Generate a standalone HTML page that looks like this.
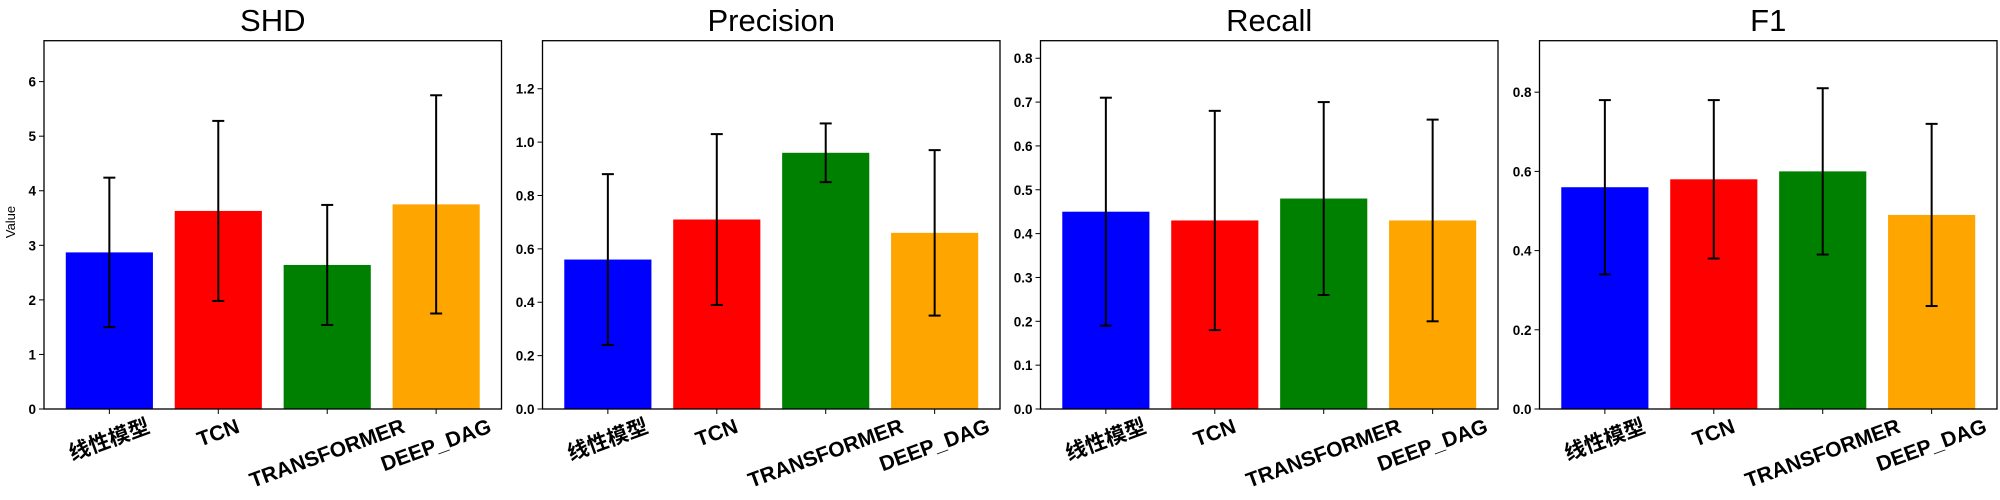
<!DOCTYPE html>
<html><head><meta charset="utf-8"><style>
body{margin:0;background:#fff}
svg{display:block}
text{font-family:"Liberation Sans","Noto Sans CJK SC",sans-serif}
</style></head><body>
<svg id="chart" width="2000" height="500" xmlns="http://www.w3.org/2000/svg"></svg>
<script>
const categories = ["线性模型","TCN","TRANSFORMER","DEEP_DAG"];
const colors = ["#0000ff","#ff0000","#008000","#ffa500"];
const titles = ["SHD","Precision","Recall","F1"];
const shdMeans = [2.87,3.63,2.64,3.75];
const shdErrs = [1.37,1.65,1.1,2.0];
const precMeans = [0.56,0.71,0.96,0.66];
const precErrs = [0.32,0.32,0.11,0.31];
const recMeans = [0.45,0.43,0.48,0.43];
const recErrs = [0.26,0.25,0.22,0.23];
const f1Means = [0.56,0.58,0.60,0.49];
const f1Errs = [0.22,0.20,0.21,0.23];
const yMaxes = [6.75,1.38,0.84,0.93];
const shdTicks = [0,1,2,3,4,5,6];
const precTicks = [0,0.2,0.4,0.6,0.8,1.0,1.2];
const recTicks = [0,0.1,0.2,0.3,0.4,0.5,0.6,0.7,0.8];
const f1Ticks = [0,0.2,0.4,0.6,0.8];

const panels = [
 {means:shdMeans,errs:shdErrs,ticks:shdTicks,dec:0},
 {means:precMeans,errs:precErrs,ticks:precTicks,dec:1},
 {means:recMeans,errs:recErrs,ticks:recTicks,dec:1},
 {means:f1Means,errs:f1Errs,ticks:f1Ticks,dec:1}
];
const lefts=[44,542.5,1040.5,1539.5], W=457.5, TOP=40.7, BOT=409;
const svg=document.getElementById('chart');
const NS="http://www.w3.org/2000/svg";
function mk(tag,attrs,parent){const e=document.createElementNS(NS,tag);for(const k in attrs)e.setAttribute(k,attrs[k]);(parent||svg).appendChild(e);return e;}

panels.forEach((p,pi)=>{
  const g=mk('g',{});
  
  
  const L=lefts[pi];
  const xs=i=>L+(i+0.6)/4.2*W;
  const ys=v=>BOT-v/yMaxes[pi]*(BOT-TOP);
  const t=mk('text',{x:L+W/2,y:31,'text-anchor':'middle','font-size':31},g);
  t.textContent=titles[pi];
  
  
  p.means.forEach((m,i)=>{
    const bw=0.8/4.2*W;
    const r=mk('rect',{x:xs(i)-bw/2,y:ys(m),width:bw,height:BOT-ys(m),fill:colors[i]},g);
    
    
  });
  p.means.forEach((m,i)=>{
    const x=xs(i),y1=ys(m+p.errs[i]),y2=ys(m-p.errs[i]);
    const eg=mk('g',{stroke:'#000','stroke-width':2},g);
    
    
    mk('line',{x1:x,x2:x,y1:y1,y2:y2},eg);
    mk('line',{x1:x-6,x2:x+6,y1:y1,y2:y1},eg);
    mk('line',{x1:x-6,x2:x+6,y1:y2,y2:y2},eg);
  });
  const fr=mk('rect',{x:L,y:TOP,width:W,height:BOT-TOP,fill:'none',stroke:'#000','stroke-width':1.3},g);
  
  
  p.ticks.forEach(v=>{
    const y=ys(v);
    mk('line',{x1:L-5,x2:L,y1:y,y2:y,stroke:'#000','stroke-width':1},g);
    const tl=mk('text',{x:L-8,y:y+5,'text-anchor':'end','font-size':13.5,'font-weight':'bold'},g);
    tl.textContent=v.toFixed(p.dec);
    
    
  });
  categories.forEach((c,i)=>{
    const x=xs(i);
    mk('line',{x1:x,x2:x,y1:BOT,y2:BOT+5,stroke:'#000','stroke-width':1},g);
    const tl=mk('text',{x:0,y:0,'text-anchor':'middle','dominant-baseline':'central','font-size':21,'font-weight':'bold'},g);
    tl.textContent=c;
    
    
    const w=tl.getComputedTextLength(),h=21;
    const a=20*Math.PI/180;
    const cy=BOT+7+(w*Math.sin(a)+h*Math.cos(a))/2;
    tl.setAttribute('transform','translate('+x+','+cy+') rotate(-20)');
  });
});
const yl=mk('text',{x:0,y:0,'text-anchor':'middle','font-size':13,transform:'translate(15,222) rotate(-90)'});
yl.textContent='Value';


</script>
</body></html>
